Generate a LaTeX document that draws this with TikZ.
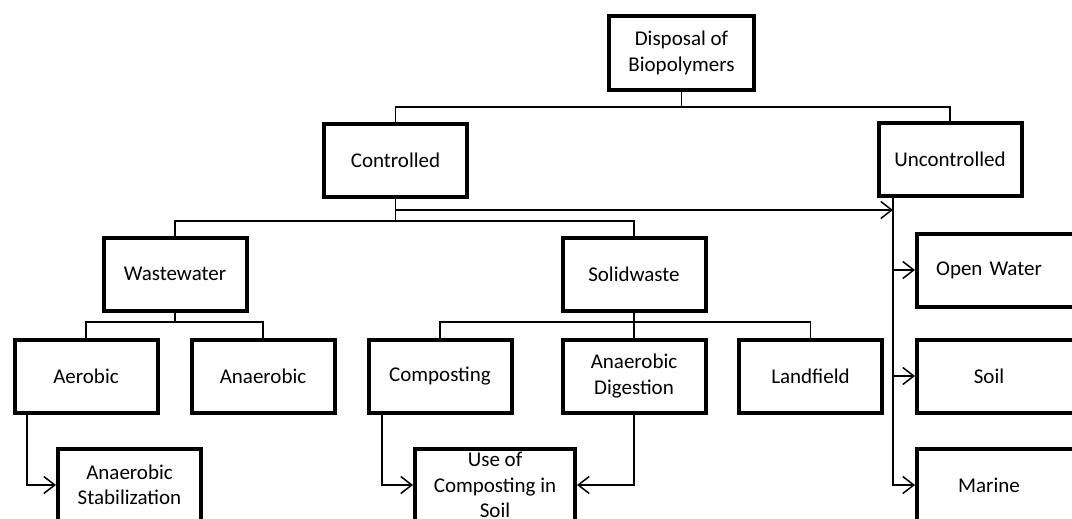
\documentclass[tikz,border=0pt]{standalone}
\usepackage{fontspec}
\setmainfont{Carlito}
\usetikzlibrary{arrows.meta}

\begin{document}
\begin{tikzpicture}[x=1pt,y=-1pt,
  blk/.style={draw,line width=4pt,minimum width=143pt,minimum height=73pt,inner sep=2pt,align=center,font=\fontsize{21}{25.5}\selectfont},
  rblk/.style={blk,anchor=west,inner xsep=0pt,text width=190pt,align=left},
  conn/.style={line width=1.5pt},
  arr/.style={conn,-{Straight Barb[length=11pt,width=17pt]}}]
\useasboundingbox(0,0)rectangle(1072,519);
\clip(0,0)rectangle(1072,519);
\node[blk,minimum width=145pt,minimum height=74pt](dis)at(681.5,53){Disposal of\\Biopolymers};
\node[blk](ctl)at(395.5,160.5){Controlled};
\node[blk](unc)at(950,159.5){Uncontrolled};
\node[blk](ww)at(175,274){Wastewater};
\node[blk](sw)at(634,274){Solidwaste};
\node[rblk](ow)at(915,270){\makebox[144pt]{Open Water}};
\node[blk](aer)at(86,376){Aerobic};
\node[blk](ana)at(263,376){Anaerobic};
\node[blk](comp)at(440,376){Composting};
\node[blk](dig)at(634,376){Anaerobic\\Digestion};
\node[blk](land)at(810.5,376){Landfield};
\node[rblk](soil)at(915,376){\makebox[144pt]{Soil}};
\node[blk](stab)at(129.5,485){Anaerobic\\Stabilization};
\node[blk,minimum width=160pt](use)at(495,485){Use of\\Composting in\\Soil};
\node[rblk](mar)at(915,485){\makebox[144pt]{Marine}};
\coordinate(bus1)at(681.5,107);
\coordinate(bus2)at(395.5,221);
\coordinate(bus3)at(175,322);
\coordinate(bus4)at(634,322);
\coordinate(t1)at(893,210);
\coordinate(trunk)at(unc.south -| t1);
\draw[conn](dis.south)--(bus1);
\draw[conn](ctl.north)|-(bus1)-|(unc.north);
\draw[conn](ctl.south)--(bus2);
\draw[conn](ww.north)|-(bus2)-|(sw.north);
\draw[arr](ctl.south)|-(t1);
\draw[conn](ww.south)--(bus3);
\draw[conn](aer.north)|-(bus3)-|(ana.north);
\draw[conn](sw.south)--(bus4)--(dig.north);
\draw[conn](comp.north)|-(bus4)-|(land.north);
\draw[arr]([xshift=-59pt]aer.south)|-(stab.west);
\draw[arr]([xshift=-58pt]comp.south)|-(use.west);
\draw[arr](dig.south)|-(use.east);
\draw[arr](trunk)|-(ow.west);
\draw[arr](trunk)|-(soil.west);
\draw[arr](trunk)|-(mar.west);
\end{tikzpicture}
\end{document}
